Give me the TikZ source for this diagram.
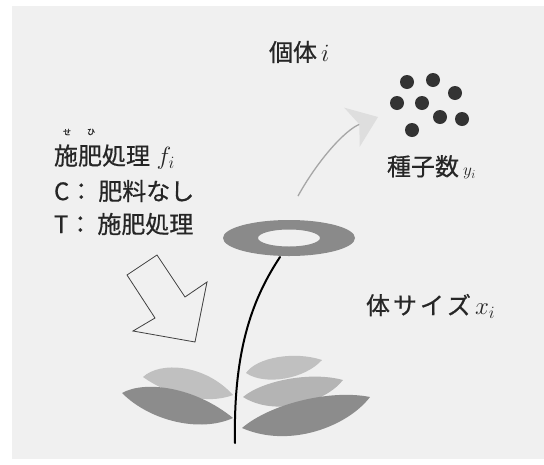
\documentclass[tikz,border=0pt]{standalone}
\usepackage{fontspec}
\usetikzlibrary{arrows.meta}
\newfontfamily\jp[FakeBold=0.6]{Noto Sans CJK JP}
\definecolor{paper}{HTML}{F0F0F0}
\definecolor{leafdark}{HTML}{8C8C8C}
\definecolor{leaflight}{HTML}{C0C0C0}
\definecolor{leafmid}{HTML}{B4B4B4}
\definecolor{ringgray}{HTML}{8A8A8A}
\definecolor{seedgray}{HTML}{333333}
\begin{document}
\begin{tikzpicture}[x=1pt,y=-1pt,
  label/.style={inner sep=0pt, outer sep=0pt, text=black!85, font=\jp\fontsize{24}{28}\selectfont},
  ruby/.style={inner sep=0pt, text=black!85, font=\jp\fontsize{8}{9}\selectfont},
  seed/.style={fill=seedgray},
  stem/.style={line width=2pt, black, line cap=round},
  hollow/.style={draw=black!75, line width=0.8pt, line join=miter},
  seedarrow/.style={line width=1.3pt, black!35,
    -{Stealth[length=28pt,width=42pt,inset=8pt,color=black!13]}}]

% paper
\useasboundingbox (0,0) rectangle (544,464);
\fill[white] (0,0) rectangle (544,464);
\fill[paper] (12,6) rectangle (544,459);

% labels
\node[label, anchor=west] (indiv) at (269,52) {個体\,$i$};
\node[ruby] (rubyse) at (67,132) {せ};
\node[ruby] (rubyhi) at (91,132) {ひ};
\node[label, anchor=west] (fert) at (54,157) {施肥処理\;$f_i$};
\node[label, anchor=west] (ctrl) at (54,191) {C：\hspace{5pt}肥料なし};
\node[label, anchor=west] (treat) at (54,224) {T：\hspace{5pt}施肥処理};
\node[label, anchor=west] (seedno) at (387,167) {種子数\,$\scriptstyle y_i$};
\node[label, anchor=west] (size) at (366,306) {体\hspace{3pt}サ\hspace{3pt}イ\hspace{3pt}ズ\hspace{4pt}$x_i$};

% seeds
\foreach \sx/\sy in {407/82, 433/80, 455/93, 397/103, 422/103, 440/117, 462/119, 412/130}
  \fill[seed] (\sx,\sy) circle (7pt);

% arrow from the flower to the seeds
\coordinate (arrS) at (298,196);
\coordinate (arrE) at (378,117);
\draw[seedarrow] (arrS) .. controls (318,160) and (345,130) .. (arrE);

% fertiliser arrow
\draw[hollow] (157,255) -- (185,297) -- (207,282) -- (195,342) -- (133,331) -- (155,318) -- (127,275) -- cycle;

% leaves, back to front
\fill[leaflight] (143,377) .. controls (160,361) and (205,364) .. (233,395)
  .. controls (205,406) and (165,393) .. (143,377) -- cycle;
\fill[leafdark] (122,393) .. controls (145,380) and (195,387) .. (233,418)
  .. controls (200,433) and (150,421) .. (122,393) -- cycle;
\fill[leaflight] (246,373) .. controls (257,357) and (295,351) .. (322,360)
  .. controls (305,379) and (265,386) .. (246,373) -- cycle;
\fill[leafmid] (243,397) .. controls (262,381) and (310,371) .. (343,380)
  .. controls (325,403) and (275,417) .. (243,397) -- cycle;
\fill[leafdark] (242,428) .. controls (270,404) and (330,389) .. (370,397)
  .. controls (348,426) and (290,449) .. (242,428) -- cycle;

% flower head
\coordinate (head) at (289,238);
\fill[ringgray, even odd rule] (head) ellipse [x radius=66pt, y radius=18pt]
  (head) ellipse [x radius=31pt, y radius=8.5pt];

% stem
\draw[stem] (280,257) .. controls (255,295) and (233,345) .. (235,443);
\end{tikzpicture}
\end{document}
